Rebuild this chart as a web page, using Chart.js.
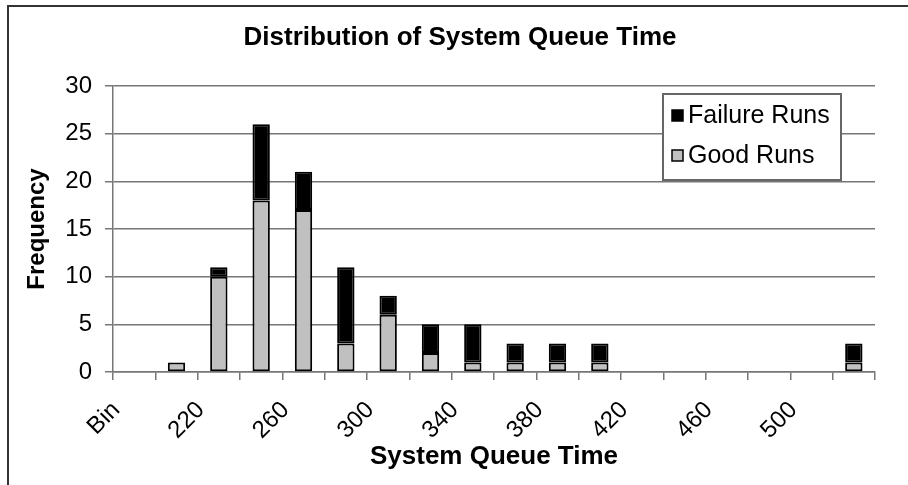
<!DOCTYPE html>
<html>
<head>
<meta charset="utf-8">
<script src="https://cdn.jsdelivr.net/npm/chart.js@4/dist/chart.umd.min.js"></script>
<style>
  body { margin: 0; background: #fff; }
  #wrap { position: relative; width: 908px; height: 485px; overflow: hidden; }
  #frame { position: absolute; left: 7px; top: 5px; width: 1000px; height: 1000px;
           border-left: 2px solid #333; border-top: 2px solid #333; pointer-events: none; }
</style>
</head>
<body>
<div id="wrap">
  <canvas id="queueChart"></canvas>
  <div id="frame"></div>
</div>
<script>
// datos del histograma
const categories = ['Bin', '200', '220', '240', '260', '280', '300', '320', '340',
                    '360', '380', '400', '420', '440', '460', '480', '500', 'More'];
const goodRuns    = [0, 1, 10, 18, 17, 3, 6, 2, 1, 1, 1, 1, 0, 0, 0, 0, 0, 1];
const failureRuns = [0, 0,  1,  8,  4, 8, 2, 3, 4, 2, 2, 2, 0, 0, 0, 0, 0, 2];
const yTicks = [0, 5, 10, 15, 20, 25, 30];
const chartTitle = 'Distribution of System Queue Time';

const FONT = "'Liberation Sans', Arial, sans-serif";
const GRID = '#777';

// titulo centrado sobre todo el marco (no solo sobre el area de escalas)
const frameTitle = {
    id: 'frameTitle',
    afterDraw(chart) {
        const ctx = chart.ctx;
        ctx.save();
        ctx.font = 'bold 26px ' + FONT;
        ctx.fillStyle = '#000';
        ctx.textAlign = 'center';
        ctx.textBaseline = 'middle';
        ctx.fillText(chartTitle, 460, 38);
        ctx.restore();
    }
};

// leyenda dentro del area del grafico (como en Excel)
const legendBox = {
    id: 'legendBox',
    afterDraw(chart) {
        const ctx = chart.ctx;
        const x = 663, y = 94, w = 178, h = 86;
        ctx.save();
        ctx.fillStyle = '#fff';
        ctx.fillRect(x, y, w, h);
        ctx.strokeStyle = '#666';
        ctx.lineWidth = 2;
        ctx.strokeRect(x, y, w, h);
        const items = chart.data.datasets.slice().reverse();
        ctx.font = '25px ' + FONT;
        ctx.textBaseline = 'middle';
        items.forEach((ds, i) => {
            const cy = y + 21 + i * 40;
            ctx.fillStyle = ds.backgroundColor;
            ctx.fillRect(672, cy - 5, 11, 11);
            ctx.strokeStyle = '#000';
            ctx.lineWidth = 1.5;
            ctx.strokeRect(672, cy - 5, 11, 11);
            ctx.fillStyle = '#000';
            ctx.fillText(ds.label, 688, cy + 1);
        });
        ctx.restore();
    }
};

const ctx = document.getElementById('queueChart').getContext('2d');
new Chart(ctx, {
    type: 'bar',
    data: {
        labels: categories,
        datasets: [{
            label: 'Good Runs',
            data: goodRuns,
            backgroundColor: '#C0C0C0',
            borderColor: '#000',
            borderWidth: 2,
            borderSkipped: false
        }, {
            label: 'Failure Runs',
            data: failureRuns,
            backgroundColor: '#000',
            borderColor: '#000',
            borderWidth: 2,
            borderSkipped: false
        }]
    },
    options: {
        responsive: true,
        maintainAspectRatio: false,
        animation: false,
        layout: { padding: { left: 18, right: 33, top: 86, bottom: 8 } },
        datasets: { bar: { barPercentage: 0.41, categoryPercentage: 1 } },
        plugins: {
            legend: { display: false },
            tooltip: { enabled: false },
            title: { display: false }
        },
        scales: {
            x: {
                stacked: true,
                grid: { drawOnChartArea: false, drawTicks: true, tickLength: 8, offset: true,
                        color: GRID, lineWidth: 1.5 },
                border: { display: true, color: GRID, width: 1.5 },
                ticks: {
                    autoSkip: false,
                    minRotation: 45,
                    maxRotation: 45,
                    padding: 16,
                    labelOffset: -18,
                    color: '#000',
                    font: { family: FONT, size: 24 },
                    callback: function(value, index) {
                        return index % 2 === 0 ? categories[index] : '';
                    }
                },
                title: {
                    display: true,
                    text: 'System Queue Time',
                    color: '#000',
                    font: { family: FONT, size: 26, weight: 'bold', lineHeight: 1.2 },
                    padding: { top: 0, bottom: 5 }
                },
                afterFit: function(scale) { scale.height = 105; }
            },
            y: {
                stacked: true,
                min: yTicks[0],
                max: yTicks[yTicks.length - 1],
                afterBuildTicks: function(scale) {
                    scale.ticks = yTicks.map(v => ({ value: v }));
                },
                grid: { color: GRID, lineWidth: 1.5, tickLength: 8 },
                border: { display: true, color: GRID, width: 1.5 },
                ticks: {
                    padding: 13,
                    color: '#000',
                    font: { family: FONT, size: 24 }
                },
                title: {
                    display: true,
                    text: 'Frequency',
                    color: '#000',
                    font: { family: FONT, size: 24, weight: 'bold', lineHeight: 1.2 },
                    padding: { top: 5, bottom: 0 }
                },
                afterFit: function(scale) { scale.width = 95; }
            }
        }
    },
    plugins: [frameTitle, legendBox]
});
</script>
</body>
</html>
